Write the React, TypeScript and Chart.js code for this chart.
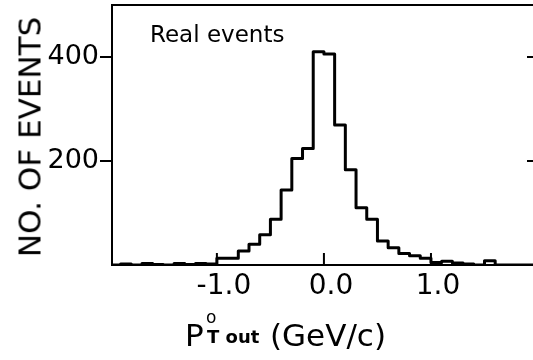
import React, { useEffect, useRef } from "react";
import { Chart, registerables } from "chart.js";

Chart.register(...registerables);

// Histogram bins: left edge of each 0.1 GeV/c bin and the count in it
const binLeftEdges = [
  -2.0, -1.9, -1.8, -1.7, -1.6, -1.5, -1.4, -1.3, -1.2, -1.1,
  -1.0, -0.9, -0.8, -0.7, -0.6, -0.5, -0.4, -0.3, -0.2, -0.1,
  0.0, 0.1, 0.2, 0.3, 0.4, 0.5, 0.6, 0.7, 0.8, 0.9,
  1.0, 1.1, 1.2, 1.3, 1.4, 1.5, 1.6, 1.7, 1.8, 1.9,
];
const eventCounts = [
  0, 2, 0, 3, 1, 0, 3, 1, 3, 2,
  13, 13, 27, 40, 58, 88, 144, 205, 224, 410,
  406, 269, 183, 110, 88, 46, 33, 22, 18, 13,
  5, 7, 4, 2, 0, 8, 0, 0, 0, 0,
];
const lastBinRightEdge = 2.0;

const xTickValues = [-1.0, 0.0, 1.0];
const xTickLabels = ["-1.0", "0.0", "1.0"];
const yTickValues = [200, 400];
const yTickLabels = ["200", "400"];

const X_MIN = -1.98;
const X_MAX = 2.0;
const Y_MIN = 0;
const Y_MAX = 500;

const FONT = "'DejaVu Sans', sans-serif";

// Top/right frame lines plus the inward tick marks
const framePlugin = {
  id: "frame",
  afterDatasetsDraw(chart: any) {
    const { ctx, chartArea, scales } = chart;
    const { left, right, top, bottom } = chartArea;
    ctx.save();
    ctx.strokeStyle = "#000";
    ctx.lineWidth = 2;
    ctx.beginPath();
    ctx.moveTo(left - 1, top);
    ctx.lineTo(right, top);
    ctx.lineTo(right, bottom);
    ctx.stroke();
    ctx.beginPath();
    xTickValues.forEach((v) => {
      const px = scales.x.getPixelForValue(v);
      ctx.moveTo(px, bottom);
      ctx.lineTo(px, bottom - 12);
    });
    yTickValues.forEach((v) => {
      const py = scales.y.getPixelForValue(v);
      ctx.moveTo(right, py);
      ctx.lineTo(right - 11, py);
    });
    ctx.stroke();
    ctx.restore();
  },
};

export default function App() {
  const canvasRef = useRef<HTMLCanvasElement | null>(null);

  useEffect(() => {
    if (!canvasRef.current) return;
    const points = binLeftEdges.map((x, i) => ({ x, y: eventCounts[i] }));
    points.push({ x: lastBinRightEdge, y: eventCounts[eventCounts.length - 1] });

    const chart = new Chart(canvasRef.current, {
      type: "line",
      data: {
        datasets: [
          {
            data: points,
            stepped: true,
            borderColor: "#000",
            borderWidth: 3,
            pointRadius: 0,
            fill: false,
            borderJoinStyle: "round",
          },
        ],
      },
      options: {
        animation: false,
        responsive: false,
        devicePixelRatio: 1,
        events: [],
        layout: { padding: { top: 5, right: 7, left: 0, bottom: 0 } },
        plugins: {
          legend: { display: false },
          tooltip: { enabled: false },
          title: { display: false },
        },
        scales: {
          x: {
            type: "linear",
            min: X_MIN,
            max: X_MAX,
            border: { display: true, color: "#000", width: 2 },
            grid: { display: false, drawTicks: false },
            afterBuildTicks: (scale: any) => {
              scale.ticks = xTickValues.map((value) => ({ value }));
            },
            afterFit: (scale: any) => {
              scale.height = 95;
              scale.paddingLeft = 0;
              scale.paddingRight = 0;
            },
            ticks: {
              color: "#000",
              font: { family: FONT, size: 28 },
              padding: 5,
              labelOffset: 7,
              maxRotation: 0,
              autoSkip: false,
              callback: (value: any) => {
                const i = xTickValues.indexOf(Number(value));
                return i >= 0 ? xTickLabels[i] : "";
              },
            },
          },
          y: {
            type: "linear",
            min: Y_MIN,
            max: Y_MAX,
            border: { display: true, color: "#000", width: 2 },
            grid: {
              drawOnChartArea: false,
              drawTicks: true,
              tickLength: 12,
              color: "#000",
              lineWidth: 2,
            },
            afterBuildTicks: (scale: any) => {
              scale.ticks = yTickValues.map((value) => ({ value }));
            },
            afterFit: (scale: any) => {
              scale.width = 112;
              scale.paddingTop = 0;
              scale.paddingBottom = 0;
            },
            ticks: {
              color: "#000",
              font: { family: FONT, size: 27 },
              padding: 1,
              autoSkip: false,
              callback: (value: any) => {
                const i = yTickValues.indexOf(Number(value));
                return i >= 0 ? yTickLabels[i] : "";
              },
            },
          },
        },
      },
      plugins: [framePlugin],
    });
    return () => chart.destroy();
  }, []);

  const text: React.CSSProperties = {
    position: "absolute",
    fontFamily: FONT,
    lineHeight: 1,
    whiteSpace: "nowrap",
    color: "#000",
  };

  return (
    <div
      style={{
        position: "fixed",
        left: 0,
        top: 0,
        width: 533,
        height: 360,
        overflow: "hidden",
        background: "#fff",
      }}
    >
      <canvas
        ref={canvasRef}
        width={545}
        height={360}
        style={{ position: "absolute", left: 0, top: 0, width: 545, height: 360 }}
      />
      <div style={{ ...text, left: 150, top: 23, fontSize: 23 }}>Real events</div>
      <div
        style={{
          ...text,
          left: 30,
          top: 137,
          fontSize: 31,
          transform: "translate(-50%, -50%) rotate(-90deg)",
        }}
      >
        NO. OF EVENTS
      </div>
      <div style={{ ...text, left: 185, top: 320, fontSize: 31 }}>P</div>
      <div style={{ ...text, left: 206, top: 309, fontSize: 17 }}>o</div>
      <div style={{ ...text, left: 207, top: 328, fontSize: 18, fontWeight: "bold" }}>T out</div>
      <div style={{ ...text, left: 270, top: 320, fontSize: 31 }}>(GeV/c)</div>
    </div>
  );
}
